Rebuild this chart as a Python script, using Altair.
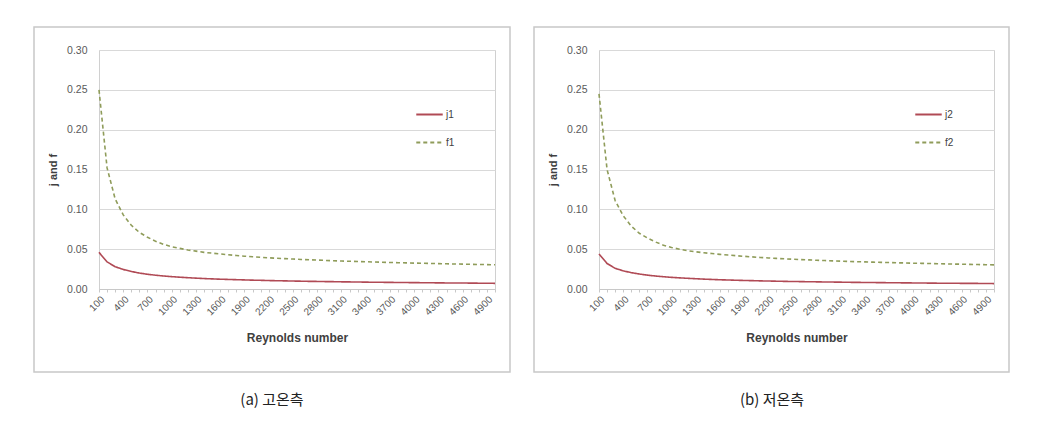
import altair as alt
import pandas as pd

re_values = list(range(100, 5001, 100))

j1 = [0.046, 0.034, 0.028, 0.0245, 0.022, 0.020, 0.0185, 0.0173, 0.0163, 0.0155,
      0.0148, 0.0142, 0.0136, 0.0131, 0.0127, 0.0123, 0.0120, 0.0117, 0.0114, 0.0111,
      0.0109, 0.0106, 0.0104, 0.0102, 0.0100, 0.0098, 0.0096, 0.0095, 0.0093, 0.0092,
      0.0090, 0.0089, 0.0088, 0.0086, 0.0085, 0.0084, 0.0083, 0.0082, 0.0081, 0.0080,
      0.0079, 0.0078, 0.0077, 0.0076, 0.0075, 0.0075, 0.0074, 0.0073, 0.0072, 0.0071]
f1 = [0.250, 0.152, 0.113, 0.093, 0.080, 0.071, 0.065, 0.060, 0.056, 0.053,
      0.051, 0.049, 0.0475, 0.046, 0.045, 0.044, 0.043, 0.042, 0.0412, 0.0405,
      0.0398, 0.0392, 0.0386, 0.0381, 0.0376, 0.0371, 0.0367, 0.0363, 0.0359, 0.0355,
      0.0351, 0.0348, 0.0345, 0.0342, 0.0339, 0.0336, 0.0333, 0.0330, 0.0328, 0.0325,
      0.0323, 0.0321, 0.0318, 0.0316, 0.0314, 0.0312, 0.0310, 0.0308, 0.0306, 0.0304]
j2 = [0.044, 0.032, 0.026, 0.0228, 0.0205, 0.0188, 0.0174, 0.0163, 0.0154, 0.0146,
      0.0140, 0.0134, 0.0129, 0.0124, 0.0120, 0.0116, 0.0113, 0.0110, 0.0107, 0.0105,
      0.0102, 0.0100, 0.0098, 0.0096, 0.0094, 0.0093, 0.0091, 0.0090, 0.0088, 0.0087,
      0.0086, 0.0084, 0.0083, 0.0082, 0.0081, 0.0080, 0.0079, 0.0078, 0.0077, 0.0076,
      0.0075, 0.0074, 0.0073, 0.0073, 0.0072, 0.0071, 0.0070, 0.0070, 0.0069, 0.0068]
f2 = [0.245, 0.150, 0.111, 0.092, 0.079, 0.070, 0.064, 0.059, 0.055, 0.052,
      0.050, 0.048, 0.0467, 0.0455, 0.0445, 0.0435, 0.0426, 0.0418, 0.0410, 0.0403,
      0.0396, 0.0390, 0.0384, 0.0379, 0.0374, 0.0369, 0.0365, 0.0361, 0.0357, 0.0353,
      0.0350, 0.0346, 0.0343, 0.0340, 0.0337, 0.0334, 0.0332, 0.0329, 0.0327, 0.0324,
      0.0322, 0.0320, 0.0317, 0.0315, 0.0313, 0.0311, 0.0309, 0.0307, 0.0305, 0.0303]

captions = ["(a) 고온측", "(b) 저온측"]

J_COLOR = "#b04a55"
F_COLOR = "#8f9c5a"


def panel(jname, jvals, fname, fvals, caption, w, h):
    df = pd.DataFrame({
        "Re": re_values * 2,
        "value": jvals + fvals,
        "series": [jname] * len(jvals) + [fname] * len(fvals),
    })
    box = alt.Chart(pd.DataFrame({"a": [0]})).mark_rect(
        fill=None, stroke="#c8c8c8", strokeWidth=1.5
    ).encode(
        x=alt.value(-65), x2=alt.value(w + 15),
        y=alt.value(-23), y2=alt.value(322)
    )
    lines = alt.Chart(df).mark_line(strokeWidth=1.6).encode(
        x=alt.X("Re:O", sort="ascending",
                scale=alt.Scale(type="point", padding=0),
                axis=alt.Axis(
                    title="Reynolds number",
                    titleFont="Liberation Sans", titleFontSize=12, titleFontWeight="bold",
                    titleColor="#404040", titlePadding=16,
                    labelAngle=-45, labelFontSize=10, labelColor="#595959",
                    labelFont="Liberation Sans",
                    labelExpr="(datum.value - 100) % 300 == 0 ? datum.label : ''",
                    labelOverlap=False,
                    domainColor="#c8c8c8", tickColor="#c8c8c8", tickSize=3,
                    grid=False,
                )),
        y=alt.Y("value:Q",
                scale=alt.Scale(domain=[0, 0.30]),
                axis=alt.Axis(
                    title="j and f",
                    titleFont="Liberation Sans", titleFontSize=11, titleFontWeight="bold",
                    titleColor="#404040", titlePadding=8,
                    values=[0, 0.05, 0.10, 0.15, 0.20, 0.25, 0.30],
                    format=".2f", labelFontSize=10.5, labelColor="#595959",
                    labelFont="Liberation Sans", labelPadding=12,
                    ticks=False, domain=False,
                    gridColor="#d9d9d9", gridWidth=1,
                )),
        color=alt.Color("series:N",
                        scale=alt.Scale(domain=[jname, fname], range=[J_COLOR, F_COLOR]),
                        legend=alt.Legend(
                            title=None, orient="none", legendX=w - 80, legendY=50,
                            symbolType="stroke", symbolSize=700, symbolStrokeWidth=2,
                            labelFontSize=10, labelColor="#404040", rowPadding=8,
                            labelFont="Liberation Sans", labelOffset=2,
                        )),
        strokeDash=alt.StrokeDash("series:N",
                                  scale=alt.Scale(domain=[jname, fname],
                                                  range=[[1, 0], [4, 3]]),
                                  legend=None),
    )
    cap = alt.Chart(pd.DataFrame({"t": [caption]})).mark_text(
        font="Noto Sans CJK KR", fontSize=15, color="#222222", align="center"
    ).encode(
        x=alt.value(173), y=alt.value(350), text="t:N"
    )
    return alt.layer(box, lines, cap).properties(width=w, height=h)


p1 = panel("j1", j1, "f1", f1, captions[0], 396, 239)
p2 = panel("j2", j2, "f2", f2, captions[1], 395, 239)

chart = alt.hconcat(p1, p2, spacing=20).resolve_scale(
    color="independent", strokeDash="independent"
).configure_view(
    stroke="#d0d0d0"
).properties(
    padding={"left": 24, "top": 17, "right": 0, "bottom": 0},
    background="white"
)

chart.save("out.html", embed_options={"renderer": "svg", "actions": False})
